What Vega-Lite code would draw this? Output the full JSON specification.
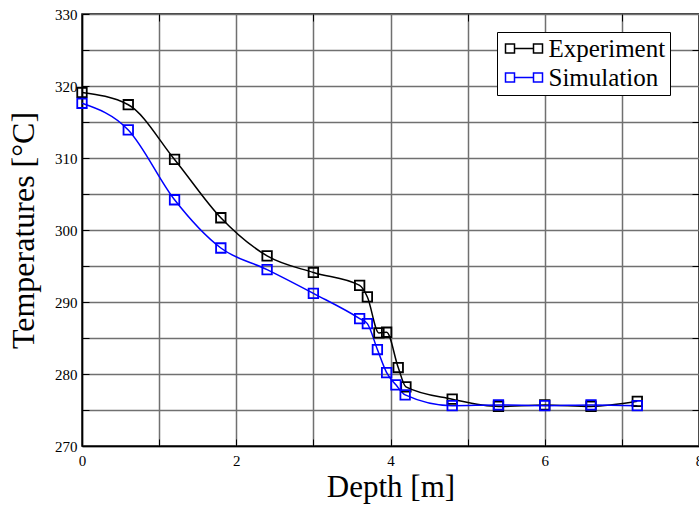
{
  "$schema": "https://vega.github.io/schema/vega-lite/v6.json",
  "width": 617,
  "height": 432,
  "autosize": {"type": "none"},
  "padding": {"left": 82, "top": 14, "right": 0, "bottom": 59},
  "background": "white",
  "config": {
    "font": "Liberation Serif",
    "view": {"stroke": "black", "strokeWidth": 1.5},
    "axis": {
      "domainColor": "black",
      "domainWidth": 1.5,
      "tickColor": "black",
      "tickWidth": 1,
      "tickSize": -7,
      "gridColor": "#707070",
      "gridWidth": 1.5,
      "labelFont": "Liberation Serif",
      "labelFontSize": 15,
      "labelColor": "black",
      "titleFont": "Liberation Serif",
      "titleFontWeight": "normal",
      "titleColor": "black"
    }
  },
  "data": {
    "values": [
      {"depth": 0, "temp": 319.1, "series": "Experiment"},
      {"depth": 0.6, "temp": 317.4, "series": "Experiment"},
      {"depth": 1.2, "temp": 309.8, "series": "Experiment"},
      {"depth": 1.8, "temp": 301.7, "series": "Experiment"},
      {"depth": 2.4, "temp": 296.4, "series": "Experiment"},
      {"depth": 3.0, "temp": 294.1, "series": "Experiment"},
      {"depth": 3.6, "temp": 292.3, "series": "Experiment"},
      {"depth": 3.7, "temp": 290.7, "series": "Experiment"},
      {"depth": 3.85, "temp": 285.7, "series": "Experiment"},
      {"depth": 3.95, "temp": 285.8, "series": "Experiment"},
      {"depth": 4.1, "temp": 280.9, "series": "Experiment"},
      {"depth": 4.2, "temp": 278.2, "series": "Experiment"},
      {"depth": 4.8, "temp": 276.5, "series": "Experiment"},
      {"depth": 5.4, "temp": 275.5, "series": "Experiment"},
      {"depth": 6.0, "temp": 275.7, "series": "Experiment"},
      {"depth": 6.6, "temp": 275.5, "series": "Experiment"},
      {"depth": 7.2, "temp": 276.2, "series": "Experiment"},
      {"depth": 0, "temp": 317.6, "series": "Simulation"},
      {"depth": 0.6, "temp": 313.9, "series": "Simulation"},
      {"depth": 1.2, "temp": 304.2, "series": "Simulation"},
      {"depth": 1.8, "temp": 297.5, "series": "Simulation"},
      {"depth": 2.4, "temp": 294.5, "series": "Simulation"},
      {"depth": 3.0, "temp": 291.2, "series": "Simulation"},
      {"depth": 3.6, "temp": 287.7, "series": "Simulation"},
      {"depth": 3.7, "temp": 287.0, "series": "Simulation"},
      {"depth": 3.83, "temp": 283.4, "series": "Simulation"},
      {"depth": 3.95, "temp": 280.2, "series": "Simulation"},
      {"depth": 4.07, "temp": 278.5, "series": "Simulation"},
      {"depth": 4.19, "temp": 277.1, "series": "Simulation"},
      {"depth": 4.8, "temp": 275.6, "series": "Simulation"},
      {"depth": 5.4, "temp": 275.7, "series": "Simulation"},
      {"depth": 6.0, "temp": 275.6, "series": "Simulation"},
      {"depth": 6.6, "temp": 275.7, "series": "Simulation"},
      {"depth": 7.2, "temp": 275.6, "series": "Simulation"}
    ]
  },
  "resolve": {"axis": {"x": "independent", "y": "independent"}},
  "layer": [
    {
      "mark": {
        "type": "line",
        "interpolate": "monotone",
        "strokeWidth": 1.5,
        "point": {"shape": "square", "filled": false, "size": 90, "strokeWidth": 1.8}
      },
      "encoding": {
        "x": {
          "field": "depth",
          "type": "quantitative",
          "scale": {"domain": [0, 8], "nice": false, "zero": false},
          "axis": {
            "orient": "bottom",
            "values": [0, 1, 2, 3, 4, 5, 6, 7, 8],
            "labelExpr": "datum.value % 2 == 0 ? datum.label : ''",
            "encode": {"grid": {"update": {"strokeOpacity": {"signal": "datum.value % 2 == 0 ? 1 : 0"}}}},
            "labelPadding": 14,
            "labelFlush": false,
            "title": "Depth [m]",
            "titleFontSize": 31,
            "titleBaseline": "alphabetic",
            "titleX": 308.5,
            "titleY": 50
          }
        },
        "y": {
          "field": "temp",
          "type": "quantitative",
          "scale": {"domain": [270, 330], "nice": false, "zero": false},
          "axis": {
            "orient": "left",
            "values": [270, 275, 280, 285, 290, 295, 300, 305, 310, 315, 320, 325, 330],
            "labelExpr": "datum.value % 10 == 0 ? datum.label : ''",
            "encode": {"grid": {"update": {"strokeOpacity": {"signal": "datum.value % 10 == 0 ? 1 : 0"}}}},
            "labelPadding": 12,
            "labelFlush": false,
            "title": "Temperatures [°C]",
            "titleFontSize": 32,
            "titleAngle": 270,
            "titleBaseline": "alphabetic",
            "titleAlign": "center",
            "titleX": -49,
            "titleY": 216
          }
        },
        "color": {
          "field": "series",
          "type": "nominal",
          "scale": {"domain": ["Experiment", "Simulation"], "range": ["#000000", "#0000ff"]},
          "legend": {
            "title": null,
            "orient": "none",
            "legendX": 415,
            "legendY": 18,
            "padding": 4,
            "fillColor": "white",
            "strokeColor": "black",
            "cornerRadius": 0,
            "labelFont": "Liberation Serif",
            "labelFontSize": 25,
            "labelColor": "black",
            "symbolOffset": 10.5,
            "labelOffset": 12,
            "rowPadding": 3,
            "symbolType": "M-1.85,-0.45H-0.95V0.45H-1.85Z M-0.95,0H0.95 M0.95,-0.45H1.85V0.45H0.95Z",
            "symbolSize": 400,
            "symbolStrokeWidth": 1.5,
            "symbolFillColor": "transparent"
          }
        }
      }
    },
    {
      "mark": {"type": "point", "opacity": 0},
      "encoding": {
        "x": {
          "field": "depth",
          "type": "quantitative",
          "axis": {
            "orient": "top",
            "values": [1, 3, 5, 7],
            "labels": false,
            "grid": false,
            "domain": false,
            "title": null
          }
        },
        "y": {
          "field": "temp",
          "type": "quantitative",
          "axis": {
            "orient": "right",
            "values": [275, 285, 295, 305, 315, 325],
            "labels": false,
            "grid": false,
            "domain": false,
            "title": null
          }
        }
      }
    }
  ]
}
